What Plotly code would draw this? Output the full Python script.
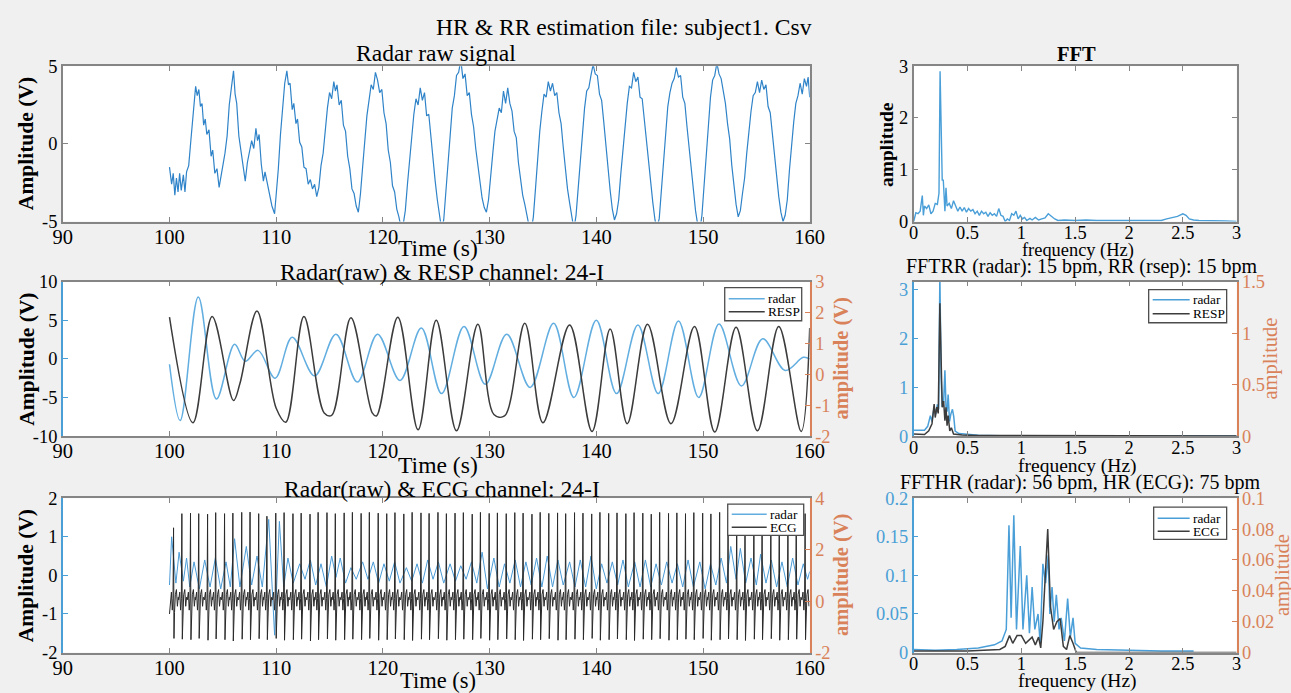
import plotly.graph_objects as go

# ---------------------------------------------------------------- data
# Radar raw signal (time s, amplitude V)
raw_radar = [
    (100.0, -1.5), (100.2, -2.6), (100.35, -1.9), (100.5, -3.3), (100.65, -2.2), (100.8, -3.1),
    (100.95, -1.9), (101.1, -3.0), (101.3, -2.0), (101.45, -3.1), (101.6, -1.8), (101.8, -1.4),
    (102.0, 0.2), (102.15, 1.5), (102.3, 2.2), (102.45, 3.7), (102.6, 3.1), (102.75, 3.5),
    (102.9, 2.4), (103.05, 2.6), (103.2, 1.2), (103.35, 1.6), (103.5, 0.6), (103.7, 0.9),
    (103.9, -0.8), (104.05, -0.4), (104.25, -1.9), (104.45, -1.6), (104.65, -2.8), (104.85, -2.0),
    (105.0, -1.2), (105.2, -0.6), (105.4, 0.5), (105.6, 2.5), (105.8, 3.6), (106.0, 4.7),
    (106.15, 3.2), (106.3, 2.6), (106.5, 0.5), (106.7, -0.5), (106.9, -1.6), (107.1, -2.4),
    (107.3, -1.2), (107.5, -0.5), (107.7, 0.2), (107.9, -0.3), (108.1, 1.0), (108.25, 0.2),
    (108.4, 0.6), (108.6, -1.3), (108.8, -2.4), (108.95, -1.8), (109.1, -2.3), (109.35, -3.3),
    (109.6, -4.0), (109.85, -4.5), (110.0, -3.4), (110.2, -1.6), (110.4, 0.6), (110.6, 2.4),
    (110.8, 3.9), (111.0, 4.7), (111.15, 3.8), (111.3, 3.9), (111.5, 2.2), (111.65, 2.6),
    (111.85, 1.3), (112.0, 1.6), (112.2, 0.1), (112.4, -0.2), (112.6, -1.5), (112.8, -1.6),
    (113.0, -2.6), (113.2, -2.3), (113.4, -2.9), (113.6, -2.6), (113.8, -3.4), (114.0, -2.8),
    (114.2, -1.4), (114.4, -0.6), (114.6, 1.0), (114.8, 2.3), (115.0, 3.3), (115.2, 2.9),
    (115.4, 4.0), (115.55, 3.4), (115.7, 3.8), (115.9, 2.5), (116.1, 2.8), (116.3, 1.2),
    (116.5, 0.8), (116.7, -0.8), (116.9, -1.6), (117.1, -2.9), (117.3, -3.2), (117.5, -4.0),
    (117.7, -4.4), (117.9, -3.2), (118.1, -1.5), (118.3, 0.2), (118.5, 1.8), (118.7, 2.8),
    (118.9, 3.8), (119.1, 3.5), (119.3, 4.6), (119.5, 4.1), (119.7, 3.3), (119.9, 3.5),
    (120.1, 2.0), (120.3, 1.3), (120.5, -0.4), (120.7, -1.2), (120.9, -2.7), (121.1, -3.1),
    (121.3, -4.2), (121.5, -4.7), (121.7, -5.4), (121.9, -5.2), (122.1, -4.3), (122.3, -2.6),
    (122.5, -1.0), (122.7, 0.8), (122.9, 1.9), (123.1, 2.9), (123.3, 2.5), (123.5, 3.6),
    (123.7, 2.8), (123.9, 3.3), (124.1, 1.8), (124.3, 1.9), (124.5, 0.3), (124.7, -0.8),
    (124.9, -2.4), (125.1, -3.6), (125.3, -4.8), (125.5, -5.5), (125.7, -4.9), (125.9, -3.1),
    (126.1, -1.0), (126.3, 0.8), (126.5, 2.3), (126.7, 3.1), (126.9, 4.4), (127.1, 4.6),
    (127.3, 5.4), (127.5, 4.2), (127.7, 4.5), (127.9, 3.1), (128.1, 3.3), (128.3, 1.9),
    (128.5, 1.1), (128.7, -0.3), (128.9, -1.5), (129.1, -2.6), (129.3, -3.5), (129.5, -4.1),
    (129.7, -4.4), (129.9, -3.6), (130.1, -1.9), (130.3, -0.6), (130.5, 0.8), (130.7, 1.7),
    (130.9, 2.3), (131.1, 2.0), (131.3, 3.4), (131.5, 2.6), (131.7, 3.6), (131.9, 2.6),
    (132.1, 2.1), (132.3, 0.8), (132.5, 0.4), (132.7, -1.2), (132.9, -2.2), (133.1, -3.3),
    (133.3, -3.9), (133.5, -4.8), (133.7, -5.3), (133.9, -5.6), (134.1, -4.7), (134.3, -2.9),
    (134.5, -0.9), (134.7, 0.8), (134.9, 2.1), (135.1, 3.2), (135.3, 3.0), (135.5, 4.0),
    (135.7, 3.4), (135.9, 3.9), (136.1, 3.1), (136.3, 3.3), (136.5, 2.0), (136.7, 1.3),
    (136.9, -0.2), (137.1, -1.6), (137.3, -2.9), (137.5, -3.8), (137.7, -4.9), (137.9, -5.5),
    (138.1, -4.6), (138.3, -2.8), (138.5, -0.8), (138.7, 1.0), (138.9, 2.3), (139.1, 3.4),
    (139.3, 3.6), (139.5, 4.4), (139.7, 5.1), (139.9, 4.5), (140.1, 4.4), (140.3, 3.2),
    (140.5, 2.8), (140.7, 1.4), (140.9, -0.1), (141.1, -1.8), (141.3, -3.0), (141.5, -4.2),
    (141.7, -4.9), (141.9, -4.5), (142.1, -3.6), (142.3, -1.9), (142.5, -0.2), (142.7, 1.4),
    (142.9, 2.6), (143.1, 3.7), (143.3, 3.6), (143.5, 4.6), (143.7, 4.0), (143.9, 4.3),
    (144.1, 3.0), (144.3, 2.9), (144.5, 1.5), (144.7, 0.4), (144.9, -1.2), (145.1, -2.7),
    (145.3, -3.8), (145.5, -4.9), (145.7, -5.4), (145.9, -4.8), (146.1, -3.0), (146.3, -1.0),
    (146.5, 0.9), (146.7, 2.4), (146.9, 3.3), (147.1, 3.9), (147.3, 4.2), (147.5, 4.9),
    (147.7, 4.3), (147.9, 4.4), (148.1, 3.0), (148.3, 2.6), (148.5, 1.1), (148.7, -0.3),
    (148.9, -1.9), (149.1, -3.2), (149.3, -4.3), (149.5, -5.2), (149.7, -5.6), (149.9, -4.6),
    (150.1, -2.6), (150.3, -0.4), (150.5, 1.6), (150.7, 3.0), (150.9, 4.1), (151.1, 4.4),
    (151.3, 5.2), (151.5, 4.5), (151.7, 4.2), (151.9, 3.3), (152.1, 2.6), (152.3, 1.3),
    (152.5, 0.3), (152.7, -1.4), (152.9, -2.9), (153.1, -3.9), (153.3, -4.7), (153.5, -4.3),
    (153.7, -3.2), (153.9, -2.2), (154.1, -0.6), (154.3, 0.9), (154.5, 2.1), (154.7, 3.1),
    (154.9, 3.3), (155.1, 4.0), (155.3, 3.3), (155.5, 4.1), (155.7, 3.5), (155.9, 3.8),
    (156.1, 2.4), (156.3, 2.0), (156.5, 0.6), (156.7, -0.6), (156.9, -2.2), (157.1, -3.4),
    (157.3, -4.4), (157.5, -5.0), (157.7, -4.6), (157.9, -3.6), (158.1, -1.7), (158.3, 0.0),
    (158.5, 1.4), (158.7, 2.6), (158.9, 3.1), (159.1, 3.9), (159.3, 3.2), (159.5, 4.2),
    (159.7, 3.7), (159.85, 4.3), (160.0, 3.0),
]

# FFT of the raw radar signal (Hz, amplitude)
fft_freq = [0.0, 0.02, 0.04, 0.06, 0.08, 0.09, 0.1, 0.12, 0.14, 0.16, 0.18, 0.2, 0.22, 0.235,
            0.245, 0.255, 0.265, 0.275, 0.29, 0.3, 0.31, 0.33, 0.35, 0.37, 0.39, 0.41, 0.43, 0.45,
            0.47, 0.49, 0.51, 0.53, 0.55, 0.57, 0.59, 0.61, 0.63, 0.65, 0.67, 0.69, 0.71, 0.73,
            0.75, 0.77, 0.79, 0.81, 0.83, 0.85, 0.87, 0.89, 0.91, 0.93, 0.95, 0.97, 0.99, 1.01,
            1.03, 1.05, 1.08, 1.1, 1.13, 1.16, 1.19, 1.22, 1.25, 1.28, 1.31, 1.34, 1.4, 1.5, 1.6,
            1.7, 1.8, 1.9, 2.0, 2.1, 2.2, 2.3, 2.35, 2.4, 2.45, 2.5, 2.53, 2.56, 2.6, 2.65, 2.7,
            2.8, 2.9, 3.0]
fft_amp = [0.0, 0.17, 0.15, 0.2, 0.5, 0.12, 0.3, 0.25, 0.32, 0.15, 0.2, 0.35, 0.33, 0.55,
           2.9, 1.5, 0.8, 0.8, 0.2, 0.65, 0.3, 0.35, 0.25, 0.4, 0.3, 0.2, 0.28, 0.2,
           0.27, 0.18, 0.25, 0.2, 0.23, 0.15, 0.2, 0.12, 0.2, 0.15, 0.18, 0.1, 0.17, 0.12,
           0.15, 0.1, 0.25, 0.12, 0.1, 0.0, 0.05, 0.02, 0.15, 0.12, 0.2, 0.05, 0.12, 0.05,
           0.08, 0.02, 0.06, 0.03, 0.08, 0.03, 0.05, 0.07, 0.15, 0.1, 0.05, 0.02, 0.03, 0.02, 0.03,
           0.02, 0.02, 0.01, 0.02, 0.01, 0.01, 0.02, 0.05, 0.08, 0.1, 0.15, 0.12, 0.05, 0.03, 0.02, 0.02,
           0.01, 0.01, 0.0]

# Respiration band: filtered radar (left axis, V) and RESP belt (right axis)
resp_radar_t = [100.0, 101.0, 102.7, 104.4, 106.1, 107.1, 108.3, 109.9, 111.5, 113.6, 115.6,
                117.6, 119.5, 121.6, 123.6, 125.5, 127.6, 129.6, 131.6, 133.8, 136.0, 137.9,
                140.0, 141.9, 143.9, 145.8, 147.7, 149.6, 151.5, 153.6, 155.6, 157.7, 159.4, 160.0]
resp_radar_v = [-0.7, -8.0, 8.0, -5.2, 1.9, -0.3, 1.1, -2.5, 2.8, -2.2, 3.2,
                -3.0, 3.2, -2.8, 4.0, -4.5, 4.2, -3.3, 3.2, -3.7, 4.6, -5.0,
                5.0, -4.5, 4.4, -4.5, 4.9, -5.0, 4.5, -3.5, 2.6, -1.5, 0.2, 0.0]
resp_belt_t = [100.0, 102.2, 104.0, 106.0, 106.6, 108.2, 110.0, 110.9, 112.6, 114.5, 115.2,
               117.0, 119.0, 119.4, 121.4, 123.3, 125.0, 126.9, 128.9, 130.4, 131.4, 133.3,
               135.0, 137.5, 139.6, 141.3, 142.9, 144.8, 147.0, 149.2, 151.1, 153.1, 155.1,
               157.1, 159.2, 160.0]
resp_belt_v = [1.85, -1.57, 1.87, -0.85, -0.3, 2.05, -1.1, -1.55, 1.87, -1.25, -1.33,
               1.83, -1.25, -1.35, 1.85, -1.8, 1.75, -1.83, 1.62, -1.3, -1.35, 1.65,
               -1.57, 1.6, -1.85, 1.47, -1.6, 1.62, -1.6, 1.55, -1.87, 1.52, -1.83,
               1.55, -1.85, 1.5]

# Cardiac band: filtered radar (left axis, V)
heart_radar = [
    (100.0, -0.25), (100.2, 1.0), (100.6, -0.2), (100.9, 0.6), (101.3, -0.15), (101.6, 0.45),
    (101.9, -0.3), (102.3, 0.35), (102.8, -0.35), (103.3, 0.4), (103.8, -0.3), (104.3, 0.45),
    (104.8, -0.35), (105.3, 0.35), (105.7, -0.3), (106.1, 0.95), (106.6, -0.3), (107.2, 0.75),
    (107.7, -0.25), (108.2, 0.5), (108.7, -0.3), (109.3, 1.45), (109.85, -1.55), (110.3, 1.4),
    (110.7, -0.3), (111.1, 0.45), (111.6, -0.2), (112.2, 0.3), (112.7, -0.1), (113.2, 0.4),
    (113.7, -0.25), (114.2, 0.3), (114.7, -0.3), (115.2, 0.5), (115.6, -0.05), (116.0, 0.45),
    (116.5, -0.2), (117.0, 0.2), (117.5, -0.1), (118.1, 0.35), (118.6, -0.1), (119.1, 0.35),
    (119.6, -0.2), (120.1, 0.3), (120.6, -0.15), (121.1, 0.35), (121.6, -0.2), (122.2, 0.2),
    (122.7, -0.15), (123.2, 0.3), (123.7, -0.2), (124.2, 0.4), (124.7, -0.1), (125.2, 0.35),
    (125.7, -0.2), (126.3, 0.3), (126.8, -0.15), (127.3, 0.25), (127.8, -0.1), (128.3, 0.35),
    (128.8, -0.2), (129.3, 0.6), (129.8, -0.35), (130.4, 0.45), (130.9, -0.3), (131.4, 0.3),
    (131.9, -0.2), (132.4, 0.4), (132.9, -0.3), (133.4, 0.35), (133.9, -0.25), (134.4, 0.45),
    (134.9, -0.3), (135.4, 0.5), (135.9, -0.3), (136.4, 0.4), (136.9, -0.25), (137.5, 0.35),
    (138.0, -0.3), (138.5, 0.4), (139.0, -0.3), (139.5, 0.5), (140.0, -0.35), (140.5, 0.3),
    (141.0, -0.2), (141.5, 0.35), (142.0, -0.25), (142.5, 0.4), (143.0, -0.3), (143.6, 0.35),
    (144.1, -0.3), (144.6, 0.4), (145.1, -0.3), (145.6, 0.3), (146.1, -0.25), (146.6, 0.35),
    (147.1, -0.2), (147.6, 0.3), (148.1, -0.3), (148.6, 0.4), (149.1, -0.3), (149.7, 0.35),
    (150.2, -0.35), (150.7, 0.3), (151.2, -0.25), (151.7, 0.45), (152.2, -0.2), (152.6, 0.75),
    (153.1, -0.1), (153.5, 0.7), (154.0, -0.2), (154.5, 0.45), (155.0, -0.25), (155.4, 0.55),
    (155.9, -0.2), (156.4, 0.4), (156.9, -0.3), (157.4, 0.35), (157.9, -0.3), (158.4, 0.45),
    (158.9, -0.25), (159.4, 0.3), (159.8, -0.1), (160.0, 0.1),
]

# ECG (right axis): beat times, R-peak and S-trough levels, and the shape between them
ecg_beat_t = [100.38, 101.16, 101.97, 102.74, 103.57, 104.33, 105.16, 105.94, 106.77, 107.55,
              108.36, 109.13, 109.96, 110.74, 111.57, 112.34, 113.17, 113.93, 114.76, 115.54,
              116.37, 117.14, 117.96, 118.73, 119.56, 120.36, 121.13, 121.96, 122.74, 123.57,
              124.33, 125.16, 125.95, 126.76, 127.54, 128.37, 129.14, 129.96, 130.73, 131.56,
              132.36, 133.14, 133.97, 134.74, 135.55, 136.37, 137.13, 137.96, 138.75, 139.57,
              140.34, 141.16, 141.94, 142.77, 143.54, 144.36, 145.15, 145.94, 146.77, 147.55,
              148.36, 149.14, 149.97, 150.74, 151.56, 152.35, 153.16, 153.94, 154.77, 155.54,
              156.36, 157.15, 157.96, 158.74, 159.57]
ecg_r_peak = [2.85, 3.4, 3.42, 3.4, 3.38, 3.44, 3.4, 3.42, 3.45, 3.46, 3.4, 3.3, 3.42, 3.44, 3.4,
              3.42, 3.38, 3.45, 3.44, 3.4, 3.43, 3.45, 3.41, 3.45, 3.42, 3.4, 3.44, 3.39, 3.45, 3.43,
              3.41, 3.45, 3.4, 3.42, 3.44, 3.38, 3.45, 3.41, 3.43, 3.4, 3.44, 3.42, 3.38, 3.45, 3.41,
              3.43, 3.4, 3.44, 3.42, 3.39, 3.45, 3.41, 3.43, 3.4, 3.44, 3.42, 3.38, 3.45, 3.41, 3.43,
              3.4, 3.44, 3.42, 3.39, 3.45, 3.41, 3.43, 3.38, 3.44, 3.42, 3.4, 3.45, 3.41, 3.43, 3.4]
ecg_s_trough = [-1.45, -1.48, -1.5, -1.45, -1.52, -1.47, -1.5, -1.55, -1.48, -1.5, -1.46, -1.5,
                -1.45, -1.52, -1.5, -1.48, -1.55, -1.5, -1.47, -1.52, -1.5, -1.48, -1.5, -1.45,
                -1.52, -1.5, -1.47, -1.5, -1.53, -1.48, -1.5, -1.46, -1.52, -1.5, -1.48, -1.5,
                -1.45, -1.52, -1.5, -1.47, -1.5, -1.53, -1.48, -1.5, -1.46, -1.52, -1.5, -1.48,
                -1.5, -1.45, -1.52, -1.5, -1.47, -1.5, -1.53, -1.48, -1.5, -1.46, -1.52, -1.5,
                -1.48, -1.5, -1.45, -1.52, -1.5, -1.47, -1.5, -1.53, -1.48, -1.5, -1.46, -1.52,
                -1.5, -1.48, -1.5]
ecg_shape_dt = [-0.30, -0.20, -0.12, -0.05, 0.0, 0.04, 0.09, 0.17, 0.27, 0.36, 0.44]
ecg_shape_v = [0.05, 0.35, -0.35, 0.1, None, None, -0.45, 0.25, 0.45, -0.2, 0.15]

# FFT of the respiration band (Hz): radar (left axis) and RESP belt (right axis)
rr_radar_f = [0.0, 0.1, 0.13, 0.155, 0.17, 0.19, 0.205, 0.22, 0.232, 0.243, 0.255, 0.265, 0.278,
              0.29, 0.3, 0.31, 0.32, 0.333, 0.345, 0.36, 0.372, 0.385, 0.42, 0.5, 0.6, 0.8, 1.0, 3.0]
rr_radar_a = [0.12, 0.12, 0.2, 0.42, 0.3, 0.6, 0.45, 0.65, 0.55, 3.3, 1.2, 0.6, 0.7,
              1.35, 0.6, 0.5, 0.85, 0.3, 0.45, 0.55, 0.4, 0.1, 0.05, 0.03, 0.015, 0.005, 0.0, 0.0]
rr_belt_f = [0.0, 0.1, 0.14, 0.17, 0.19, 0.2, 0.215, 0.228, 0.243, 0.255, 0.265, 0.278, 0.29,
             0.3, 0.31, 0.32, 0.335, 0.35, 0.37, 0.45, 0.6, 3.0]
rr_belt_a = [0.02, 0.015, 0.05, 0.12, 0.31, 0.18, 0.28, 0.22, 1.29, 0.5, 0.28, 0.34, 0.15,
             0.28, 0.1, 0.2, 0.05, 0.08, 0.02, 0.01, 0.005, 0.0]

# FFT of the cardiac band (Hz): radar (left axis) and ECG (right axis)
hr_radar_f = [0.0, 0.2, 0.4, 0.6, 0.75, 0.82, 0.86, 0.885, 0.905, 0.93, 0.955, 0.99, 1.015, 1.05,
              1.075, 1.1, 1.125, 1.155, 1.175, 1.2, 1.225, 1.25, 1.265, 1.285, 1.305, 1.325, 1.35,
              1.37, 1.4, 1.43, 1.455, 1.48, 1.5, 1.55, 1.7, 2.0, 2.3, 2.6]
hr_radar_a = [0.004, 0.003, 0.004, 0.006, 0.01, 0.015, 0.03, 0.165, 0.045, 0.178, 0.03, 0.138,
              0.03, 0.1, 0.025, 0.085, 0.03, 0.05, 0.012, 0.115, 0.09, 0.126, 0.05, 0.085, 0.04,
              0.075, 0.03, 0.045, 0.015, 0.07, 0.02, 0.045, 0.012, 0.006, 0.004, 0.003, 0.002, 0.002]
hr_ecg_f = [0.0, 0.5, 0.8, 0.85, 0.89, 0.92, 0.96, 1.0, 1.04, 1.07, 1.1, 1.13, 1.16, 1.18, 1.2,
            1.245, 1.27, 1.3, 1.33, 1.36, 1.39, 1.42, 1.45, 1.48, 1.51, 2.0, 3.0]
hr_ecg_a = [0.001, 0.001, 0.002, 0.004, 0.011, 0.006, 0.011, 0.011, 0.006, 0.008, 0.01, 0.005,
            0.01, 0.003, 0.02, 0.08, 0.03, 0.015, 0.02, 0.022, 0.004, 0.002, 0.011, 0.006, 0.0,
            0.0, 0.0]

# ---------------------------------------------------------------- assemble ECG trace
ecg_t, ecg_v = [100.0], [-0.5]
for bt, rp, st in zip(ecg_beat_t, ecg_r_peak, ecg_s_trough):
    for dt, v in zip(ecg_shape_dt, ecg_shape_v):
        if dt == 0.0:
            v = rp
        elif dt == 0.04:
            v = st
        if 100.0 < bt + dt <= 160.0:
            ecg_t.append(bt + dt)
            ecg_v.append(v)

# ---------------------------------------------------------------- layout geometry
# Positions below are given in screen pixels of the final view; the view
# shows the page offset by the body margin and slightly scaled, so screen
# pixels are mapped back into figure pixels first.
W, H = 1308, 699
SX, OX = 0.981, 8.2
SY, OY = 0.969, 10.0
FS = 1.025  # font compensation for the view scale

FONT = "Liberation Serif, Times New Roman, serif"
GRAY = "#858585"
BLUE_AX = "#4a9fd6"
ORANGE = "#d9825a"
C_RAW = "#2f83c8"
C_RADAR = "#62aee0"
C_FFT = "#4a9fd8"
C_DARK = "#3c3c3c"


def px(x):
    return (x - OX) / SX / W


def py(y):
    return 1 - (y - OY) / SY / H


def fs(size):
    return round(size * FS, 1)


LEFT = [px(61), px(808)]
RIGHT = [px(912), px(1235)]
ROWS = [[py(221), py(66)], [py(435), py(281)], [py(651), py(497)]]


def xaxis(domain, rng, dtick, anchor, size, standoff):
    return dict(domain=domain, range=rng, tickmode="linear", tick0=rng[0], dtick=dtick,
                ticks="inside", ticklen=5, tickcolor=GRAY, showline=True, linecolor=GRAY,
                linewidth=1.5, mirror="ticks", showgrid=False, zeroline=False, anchor=anchor,
                tickfont=dict(family=FONT, size=fs(size), color="black"),
                ticklabelstandoff=standoff)


def yaxis(domain, rng, vals, anchor, color_line, color_text, mirror, size=18, side="left",
          overlaying=None, labels=None):
    d = dict(domain=domain, range=rng, tickmode="array", tickvals=vals,
             ticktext=labels if labels else [f"{v:g}" for v in vals],
             ticks="inside", ticklen=5, tickcolor=color_line, showline=True,
             linecolor=color_line, linewidth=1.5, mirror=mirror, showgrid=False,
             zeroline=False, anchor=anchor, side=side,
             tickfont=dict(family=FONT, size=fs(size), color=color_text))
    if overlaying:
        d["overlaying"] = overlaying
    return d


fig = go.Figure()


def line(x, y, xa, ya, color, width, name=None, spline=False):
    ln = dict(color=color, width=width)
    if spline:
        ln.update(shape="spline", smoothing=1.0)
    fig.add_trace(go.Scatter(x=x, y=y, mode="lines", name=name, line=ln,
                             xaxis=xa, yaxis=ya, showlegend=False))


# Row 1
line([p[0] for p in raw_radar], [p[1] for p in raw_radar], "x", "y", C_RAW, 1.2)
line(fft_freq, fft_amp, "x2", "y2", C_FFT, 1.4)
# Row 2
line(resp_radar_t, resp_radar_v, "x3", "y3", C_RADAR, 1.5, "radar", spline=True)
line(resp_belt_t, resp_belt_v, "x3", "y4", C_DARK, 1.5, "RESP", spline=True)
line(rr_radar_f, rr_radar_a, "x4", "y5", C_FFT, 1.5, "radar")
line(rr_belt_f, rr_belt_a, "x4", "y6", C_DARK, 1.5, "RESP")
# Row 3
line([p[0] for p in heart_radar], [p[1] for p in heart_radar], "x5", "y7", "#4b9bd6", 1.0, "radar")
line(ecg_t, ecg_v, "x5", "y8", "#2a2a2a", 1.0, "ECG")
line(hr_radar_f, hr_radar_a, "x6", "y9", C_FFT, 1.5, "radar")
line(hr_ecg_f, hr_ecg_a, "x6", "y10", C_DARK, 1.5, "ECG")

fig.update_layout(
    width=W, height=H, margin=dict(l=0, r=0, t=0, b=0),
    paper_bgcolor="#f0f0f0", plot_bgcolor="white",
    font=dict(family=FONT, color="black"),
    showlegend=False,
    xaxis=xaxis(LEFT, [90, 160], 10, "y", 20, -4),
    yaxis=yaxis(ROWS[0], [-5, 5], [-5, 0, 5], "x", GRAY, "black", "ticks",
                labels=["-5", "0", "5"]),
    xaxis2=xaxis(RIGHT, [0, 3], 0.5, "y2", 18, -6),
    yaxis2=yaxis(ROWS[0], [0, 3], [0, 1, 2, 3], "x2", GRAY, "black", "ticks"),
    xaxis3=xaxis(LEFT, [90, 160], 10, "y3", 20, -4),
    yaxis3=yaxis(ROWS[1], [-10, 10], [-10, -5, 0, 5, 10], "x3", BLUE_AX, "black", False,
                 labels=["-10", "-5", "0", "5", "10"]),
    yaxis4=yaxis(ROWS[1], [-2, 3], [-2, -1, 0, 1, 2, 3], "x3", ORANGE, ORANGE, False,
                 side="right", overlaying="y3", labels=["-2", "-1", "0", "1", "2", "3"]),
    xaxis4=xaxis(RIGHT, [0, 3], 0.5, "y5", 18, -6),
    yaxis5=yaxis(ROWS[1], [0, 3.17], [0, 1, 2, 3], "x4", BLUE_AX, BLUE_AX, False),
    yaxis6=yaxis(ROWS[1], [0, 1.5], [0, 0.5, 1, 1.5], "x4", ORANGE, ORANGE, False,
                 side="right", overlaying="y5"),
    xaxis5=xaxis(LEFT, [90, 160], 10, "y7", 20, -4),
    yaxis7=yaxis(ROWS[2], [-2, 2], [-2, -1, 0, 1, 2], "x5", BLUE_AX, "black", False,
                 labels=["-2", "-1", "0", "1", "2"]),
    yaxis8=yaxis(ROWS[2], [-2, 4], [-2, 0, 2, 4], "x5", ORANGE, ORANGE, False,
                 side="right", overlaying="y7", labels=["-2", "0", "2", "4"]),
    xaxis6=xaxis(RIGHT, [0, 3], 0.5, "y9", 18, -6),
    yaxis9=yaxis(ROWS[2], [0, 0.2], [0, 0.05, 0.1, 0.15, 0.2], "x6", BLUE_AX, BLUE_AX, False),
    yaxis10=yaxis(ROWS[2], [0, 0.1], [0, 0.02, 0.04, 0.06, 0.08, 0.1], "x6", ORANGE, ORANGE,
                  False, side="right", overlaying="y9"),
)


def rect(x0, x1, y0, y1, fill, border):
    fig.add_shape(type="rect", xref="paper", yref="paper", x0=px(x0), x1=px(x1),
                  y0=py(y1), y1=py(y0), fillcolor=fill,
                  line=dict(width=1.3, color=border), layer="above")


def text(x, y, s, size, color="black", bold=False, angle=0, anchor="center"):
    fig.add_annotation(x=px(x), y=py(y), xref="paper", yref="paper",
                       text=f"<b>{s}</b>" if bold else s, showarrow=False,
                       xanchor=anchor, yanchor="middle", textangle=angle,
                       font=dict(family=FONT, size=fs(size), color=color))


# Legend boxes: (left, right, top, bottom, entries)
legends = [
    (723, 800, 287, 320, [("radar", C_RADAR, 298), ("RESP", C_DARK, 311)]),
    (726, 802, 503, 534, [("radar", C_RADAR, 513), ("ECG", C_DARK, 526)]),
    (1147, 1225, 289, 322, [("radar", C_FFT, 299), ("RESP", C_DARK, 313)]),
    (1152, 1225, 506, 538, [("radar", C_FFT, 517), ("ECG", C_DARK, 530)]),
]
for x0, x1, y0, y1, entries in legends:
    rect(x0, x1, y0, y1, "white", "#4d4d4d")
    for label, color, yy in entries:
        fig.add_shape(type="line", xref="paper", yref="paper", x0=px(x0 + 4), x1=px(x1 - 37),
                      y0=py(yy), y1=py(yy), line=dict(color=color, width=1.6))
        text(x1 - 36, yy, label, 13, anchor="left")

text(622, 27, "HR &amp; RR estimation file: subject1. Csv", 23)
text(434, 53, "Radar raw signal", 23)
text(1075, 54, "FFT", 20, bold=True)
text(440, 271, "Radar(raw) &amp; RESP channel: 24-I", 23)
text(1080, 266, "FFTRR (radar): 15 bpm, RR (rsep): 15 bpm", 19.5)
text(440, 488, "Radar(raw) &amp; ECG channel: 24-I", 23)
text(1078, 481, "FFTHR (radar): 56 bpm, HR (ECG): 75 bpm", 19.5)
text(436, 247, "Time (s)", 23)
text(436, 464, "Time (s)", 23)
text(436, 679, "Time (s)", 22)
text(1076, 250, "frequency (Hz)", 18)
text(1076, 465, "frequency (Hz)", 19)
text(1076, 679, "frequency (Hz)", 19)
for yy in (143, 358, 574):
    text(25, yy, "Amplitude (V)", 21, bold=True, angle=-90)
text(885, 144, "amplitude", 19, bold=True, angle=-90)
for yy in (358, 574):
    text(840, yy, "amplitude (V)", 20, color=ORANGE, bold=True, angle=-90)
text(1269, 358, "amplitude", 20, color=ORANGE, angle=-90)
text(1281, 574, "amplitude", 20, color=ORANGE, angle=-90)

fig.write_html("out.html")
